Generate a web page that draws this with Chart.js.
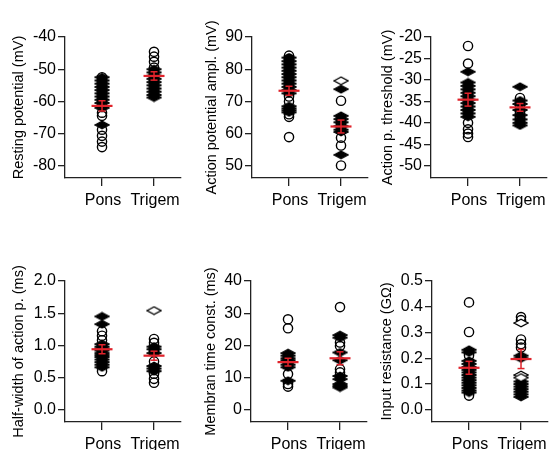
<!DOCTYPE html>
<html><head><meta charset="utf-8">
<script src="https://cdn.jsdelivr.net/npm/chart.js@4.4.1/dist/chart.umd.min.js"></script>
<style>
html,body{margin:0;padding:0;background:#fff;}
#wrap{position:relative;width:554px;height:450px;overflow:hidden;background:#fff;}
canvas{position:absolute;}
</style></head><body><div id="wrap">
<canvas id="c0"></canvas><canvas id="c1"></canvas><canvas id="c2"></canvas>
<canvas id="c3"></canvas><canvas id="c4"></canvas><canvas id="c5"></canvas>
</div>
<script>
const categories = ['Pons', 'Trigem'];

// Panel 1: Resting potential (mV)
const restTicks = [-40, -50, -60, -70, -80];
const restPonsCircle = [-52.5, -63.5, -64.5, -68.8, -70.7, -72.5, -74.2];
const restPonsDiamond = [-52.5, -53.5, -54.5, -55.5, -56.5, -57.5, -58.5, -59.5, -60.5, -62.0, -67.3];
const restPonsOpenDiamond = [];
const restTrigCircle = [-44.6, -46.1, -47.7, -49.5];
const restTrigDiamond = [-50.0, -51.0, -52.0, -53.0, -54.0, -55.0, -56.0, -57.0, -58.0, -58.8];
const restTrigOpenDiamond = [];
const restMean = [-61.4, -52.1];
const restSem = [1.6, 1.3];

// Panel 2: Action potential ampl. (mV)
const ampTicks = [90, 80, 70, 60, 50];
const ampPonsCircle = [84.2, 83.2, 71.5, 70.0, 66.0, 65.2, 58.9];
const ampPonsDiamond = [83.6, 82.5, 81.5, 80.5, 79.5, 78.5, 77.5, 76.5, 75.5, 74.5, 73.5, 72.5, 68.5, 67.8, 67.2, 66.6];
const ampPonsOpenDiamond = [];
const ampTrigCircle = [70.2, 63.3, 58.7, 56.3, 50.1];
const ampTrigDiamond = [73.8, 65.5, 64.5, 63.5, 62.3, 61.2, 60.5, 53.4];
const ampTrigOpenDiamond = [76.4];
const ampMean = [73.3, 62.2];
const ampSem = [1.4, 2.0];

// Panel 3: Action p. threshold (mV)
const thrTicks = [-20, -25, -30, -35, -40, -45, -50];
const thrPonsCircle = [-22.1, -26.2, -33.5, -40.0, -41.5, -42.5, -43.3];
const thrPonsDiamond = [-28.1, -30.6, -31.4, -32.2, -33.0, -33.8, -34.6, -35.4, -36.2, -37.0, -37.8, -38.6];
const thrPonsOpenDiamond = [];
const thrTrigCircle = [-34.2, -36.0, -37.6, -38.8];
const thrTrigDiamond = [-31.6, -34.8, -35.6, -37.0, -38.2, -39.2, -40.0, -40.6];
const thrTrigOpenDiamond = [];
const thrMean = [-34.6, -36.4];
const thrSem = [1.5, 0.9];

// Panel 4: Half-width of action p. (ms)
const hwTicks = [2.0, 1.5, 1.0, 0.5, 0.0];
const hwPonsCircle = [1.22, 1.15, 1.08, 0.60];
const hwPonsDiamond = [1.45, 1.33, 1.02, 0.98, 0.95, 0.92, 0.88, 0.85, 0.82, 0.78, 0.74, 0.70, 0.66];
const hwPonsOpenDiamond = [];
const hwTrigCircle = [1.10, 1.04, 0.90, 0.75, 0.56, 0.48, 0.42];
const hwTrigDiamond = [0.98, 0.94, 0.88, 0.68, 0.64, 0.60];
const hwTrigOpenDiamond = [1.54];
const hwMean = [0.94, 0.84];
const hwSem = [0.07, 0.07];

// Panel 5: Membran time const. (ms)
const tauTicks = [40, 30, 20, 10, 0];
const tauPonsCircle = [28.1, 25.3, 11.1, 8.0, 7.2];
const tauPonsDiamond = [17.6, 16.8, 16.0, 15.4, 14.8, 14.0, 13.2, 9.0];
const tauPonsOpenDiamond = [];
const tauTrigCircle = [31.9, 20.9, 19.8, 12.6, 11.6];
const tauTrigDiamond = [23.2, 22.4, 17.8, 15.4, 10.5, 9.5, 8.0, 7.4, 6.9];
const tauTrigOpenDiamond = [];
const tauMean = [14.8, 16.0];
const tauSem = [1.2, 2.0];

// Panel 6: Input resistance (GΩ)
const rinTicks = [0.5, 0.4, 0.3, 0.2, 0.1, 0.0];
const rinPonsCircle = [0.417, 0.302, 0.211, 0.055];
const rinPonsDiamond = [0.233, 0.223, 0.190, 0.178, 0.166, 0.155, 0.145, 0.135, 0.125, 0.115, 0.105, 0.095, 0.085, 0.075, 0.067];
const rinPonsOpenDiamond = [];
const rinTrigCircle = [0.360, 0.348, 0.273, 0.255, 0.242];
const rinTrigDiamond = [0.210, 0.200, 0.110, 0.100, 0.090, 0.080, 0.070, 0.060, 0.050];
const rinTrigOpenDiamond = [0.337, 0.135, 0.125];
const rinMean = [0.163, 0.197];
const rinSem = [0.025, 0.037];

const panels = [
  {title: 'Resting potential (mV)', ticks: restTicks, dec: 0,
   circle: [restPonsCircle, restTrigCircle], diamond: [restPonsDiamond, restTrigDiamond],
   open: [restPonsOpenDiamond, restTrigOpenDiamond], mean: restMean, sem: restSem},
  {title: 'Action potential ampl. (mV)', ticks: ampTicks, dec: 0,
   circle: [ampPonsCircle, ampTrigCircle], diamond: [ampPonsDiamond, ampTrigDiamond],
   open: [ampPonsOpenDiamond, ampTrigOpenDiamond], mean: ampMean, sem: ampSem},
  {title: 'Action p. threshold (mV)', ticks: thrTicks, dec: 0,
   circle: [thrPonsCircle, thrTrigCircle], diamond: [thrPonsDiamond, thrTrigDiamond],
   open: [thrPonsOpenDiamond, thrTrigOpenDiamond], mean: thrMean, sem: thrSem},
  {title: 'Half-width of action p. (ms)', ticks: hwTicks, dec: 1,
   circle: [hwPonsCircle, hwTrigCircle], diamond: [hwPonsDiamond, hwTrigDiamond],
   open: [hwPonsOpenDiamond, hwTrigOpenDiamond], mean: hwMean, sem: hwSem},
  {title: 'Membran time const. (ms)', ticks: tauTicks, dec: 0,
   circle: [tauPonsCircle, tauTrigCircle], diamond: [tauPonsDiamond, tauTrigDiamond],
   open: [tauPonsOpenDiamond, tauTrigOpenDiamond], mean: tauMean, sem: tauSem},
  {title: 'Input resistance (G\u03A9)', ticks: rinTicks, dec: 1,
   circle: [rinPonsCircle, rinTrigCircle], diamond: [rinPonsDiamond, rinTrigDiamond],
   open: [rinPonsOpenDiamond, rinTrigOpenDiamond], mean: rinMean, sem: rinSem}
];

// layout (pixels): canvas box, y-axis x, title centre, plot top/bottom
const layout = [
  {L: 0,   T: 0,   W: 185, H: 225, A: 65,  TC: 19,  top: 37, bot: 178},
  {L: 185, T: 0,   W: 185, H: 225, A: 252, TC: 212, top: 37, bot: 178},
  {L: 370, T: 0,   W: 184, H: 225, A: 431, TC: 388, top: 37, bot: 178},
  {L: 0,   T: 225, W: 185, H: 225, A: 65,  TC: 19,  top: 56, bot: 197},
  {L: 185, T: 225, W: 185, H: 225, A: 251, TC: 211, top: 56, bot: 197},
  {L: 370, T: 225, W: 184, H: 225, A: 432, TC: 387, top: 56, bot: 197}
];

const FONT = "'Liberation Sans', Arial, sans-serif";
const AXC = '#222';
const RED = '#e0232b';
const PLOT_W = 116;

function diamondImg(fill) {
  const c = document.createElement('canvas');
  c.width = 16; c.height = 10;
  const g = c.getContext('2d');
  g.beginPath();
  g.moveTo(1, 5); g.lineTo(8, 1.2); g.lineTo(15, 5); g.lineTo(8, 8.8); g.closePath();
  g.fillStyle = fill; g.fill();
  g.lineWidth = 1.3; g.strokeStyle = '#000'; g.stroke();
  return c;
}
const filledDiamond = diamondImg('#000');
const openDiamond = diamondImg('#fff');

function pts(groups) {
  const out = [];
  groups.forEach((arr, i) => arr.forEach(v => out.push({x: i + 1, y: v})));
  return out;
}

panels.forEach((p, k) => {
  const lo = layout[k];
  const cv = document.getElementById('c' + k);
  cv.width = lo.W; cv.height = lo.H;
  cv.style.left = lo.L + 'px'; cv.style.top = lo.T + 'px';
  cv.style.width = lo.W + 'px'; cv.style.height = lo.H + 'px';
  const titleSize = 14.5;
  const padLeft = lo.TC - lo.L - titleSize * 1.2 / 2;
  const yWidth = lo.A - lo.L - padLeft;
  const padRight = lo.W - (lo.A - lo.L + PLOT_W);
  const tmax = p.ticks[0], tmin = p.ticks[p.ticks.length - 1];
  const ymin = tmin - 0.095 * (tmax - tmin);

  const datasets = [];
  datasets.push({
    type: 'scatter', data: p.mean.map((m, i) => ({x: i + 1, y: m})),
    pointStyle: 'line', pointRadius: 10.5, pointBorderWidth: 2.2, borderColor: RED, backgroundColor: RED, clip: false
  });
  p.mean.forEach((m, i) => {
    datasets.push({
      type: 'line', data: [{x: i + 1, y: m - p.sem[i]}, {x: i + 1, y: m + p.sem[i]}],
      showLine: true, borderColor: RED, borderWidth: 1.5, pointStyle: 'line', pointRadius: 3.5,
      pointBorderWidth: 1.5, pointBorderColor: RED, fill: false, clip: false
    });
  });
  datasets.push({type: 'scatter', data: pts(p.open), pointStyle: openDiamond, pointRadius: 5, clip: false});
  datasets.push({type: 'scatter', data: pts(p.diamond), pointStyle: filledDiamond, pointRadius: 5, clip: false});
  datasets.push({type: 'scatter', data: pts(p.circle), pointStyle: 'circle', pointRadius: 4.6,
    pointBorderWidth: 1.4, borderColor: '#000', backgroundColor: 'rgba(255,255,255,0)', clip: false});

  new Chart(cv, {
    type: 'scatter',
    data: {datasets},
    options: {
      responsive: false, animation: false, devicePixelRatio: 1,
      layout: {autoPadding: false, padding: {left: padLeft, right: padRight, top: lo.top, bottom: 0}},
      plugins: {legend: {display: false}, tooltip: {enabled: false}},
      scales: {
        x: {
          type: 'linear', position: 'bottom', min: 0.288, max: 2.519,
          afterBuildTicks: s => { s.ticks = categories.map((c, i) => ({value: i + 1})); },
          afterFit: s => { s.height = lo.H - lo.bot; s.paddingLeft = 0; s.paddingRight = 0; },
          ticks: {callback: (v, i) => categories[i], font: {family: FONT, size: 16}, color: '#000',
                  padding: 5, maxRotation: 0, autoSkip: false, labelOffset: 1},
          grid: {drawOnChartArea: false, drawTicks: true, tickLength: 8, color: AXC, lineWidth: 1.3},
          border: {display: true, color: AXC, width: 1.3}
        },
        y: {
          type: 'linear', position: 'left', min: ymin, max: tmax,
          afterBuildTicks: s => { s.ticks = p.ticks.map(v => ({value: v})); },
          afterFit: s => { s.width = yWidth; s.paddingTop = 0; s.paddingBottom = 0; },
          ticks: {callback: v => Number(v).toFixed(p.dec), font: {family: FONT, size: 16}, color: '#000', padding: 2},
          grid: {drawOnChartArea: false, drawTicks: true, tickLength: 7, color: AXC, lineWidth: 1.3},
          border: {display: true, color: AXC, width: 1.3},
          title: {display: true, text: p.title, font: {family: FONT, size: titleSize}, color: '#000', padding: 0}
        }
      }
    }
  });
});
</script>
</body></html>
